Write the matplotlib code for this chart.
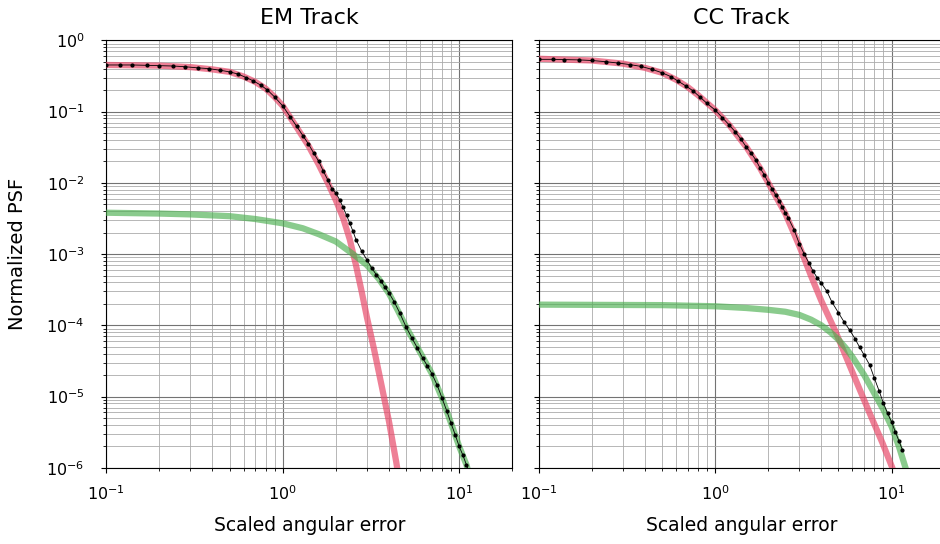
import numpy as np
import matplotlib.pyplot as plt
from matplotlib.ticker import NullFormatter

# EM Track: red (core) and green (tail) components, and binned data
em_red_x = [0.1, 0.2, 0.3, 0.4, 0.5, 0.6, 0.7, 0.8, 0.9, 1.0, 1.2, 1.4, 1.6, 1.8,
            2.0, 2.2, 2.4, 2.6, 2.8, 3.0, 3.3, 3.6, 4.0, 4.4, 4.6]
em_red_y = [0.45, 0.44, 0.42, 0.39, 0.36, 0.31, 0.26, 0.21, 0.16, 0.12, 0.060,
            0.033, 0.018, 0.010, 0.0057, 0.0032, 0.0016, 7e-4, 3.0e-4, 1.3e-4,
            4.5e-5, 1.6e-5, 4.5e-6, 1.2e-6, 6e-7]
em_green_x = [0.1, 0.2, 0.3, 0.5, 0.7, 1.0, 1.3, 1.6, 2.0, 2.5, 3.0, 3.5, 4.0,
              4.5, 5.0, 6.0, 7.0, 8.0, 9.0, 10.0, 11.0, 12.0]
em_green_y = [0.0038, 0.0037, 0.0036, 0.0034, 0.0031, 0.0027, 0.0023, 0.0019,
              0.0015, 0.0010, 7e-4, 4.5e-4, 2.8e-4, 1.6e-4, 9.5e-5, 4.2e-5,
              2.1e-5, 9.5e-6, 4.2e-6, 2.0e-6, 1.1e-6, 5e-7]

# CC Track
cc_red_x = [0.1, 0.2, 0.3, 0.4, 0.5, 0.6, 0.7, 0.8, 1.0, 1.2, 1.5, 1.8, 2.0,
            2.5, 3.0, 3.5, 4.0, 4.8, 6.0, 7.5, 8.9, 10.1, 10.6]
cc_red_y = [0.55, 0.52, 0.47, 0.41, 0.35, 0.28, 0.22, 0.17, 0.105, 0.065, 0.032,
            0.016, 0.010, 0.0037, 0.0013, 4.9e-4, 2.2e-4, 8.3e-5, 2.2e-5, 5.9e-6,
            2.2e-6, 1e-6, 7e-7]
cc_green_x = [0.1, 0.5, 1.0, 1.5, 2.0, 2.5, 3.0, 3.5, 4.0, 4.5, 5.0, 5.5, 6.0,
              7.0, 8.0, 9.0, 10.0, 11.0, 12.0, 12.5]
cc_green_y = [1.95e-4, 1.92e-4, 1.85e-4, 1.75e-4, 1.65e-4, 1.55e-4, 1.4e-4,
              1.2e-4, 1.0e-4, 8e-5, 6.3e-5, 4.8e-5, 3.6e-5, 2.0e-5, 1.1e-5,
              6.5e-6, 3.8e-6, 2.0e-6, 1.0e-6, 7e-7]

# binned data (same bin centres for both tracks)
data_x = [0.10, 0.12, 0.14, 0.17, 0.20, 0.24, 0.28, 0.33, 0.38, 0.44, 0.50,
          0.56, 0.62, 0.68, 0.75, 0.82, 0.90, 1.0, 1.1, 1.2, 1.3, 1.4, 1.5,
          1.6, 1.7, 1.8, 1.9, 2.0, 2.1, 2.2, 2.3, 2.4, 2.5, 2.6, 2.8, 3.0,
          3.2, 3.4, 3.6, 3.8, 4.0, 4.3, 4.6, 5.0, 5.4, 5.8, 6.2, 6.6, 7.0,
          7.5, 8.0, 8.5, 9.0, 9.5, 10.0, 10.5, 11.0, 11.5]
em_data_y = [0.45, 0.45, 0.45, 0.445, 0.44, 0.435, 0.425, 0.41, 0.40, 0.38,
             0.36, 0.335, 0.30, 0.27, 0.235, 0.20, 0.16, 0.12, 0.085, 0.062,
             0.046, 0.035, 0.026, 0.020, 0.0145, 0.0110, 0.0082, 0.0072,
             0.0058, 0.0045, 0.0035, 0.0027, 0.0021, 0.0016, 0.0011, 8.3e-4,
             6.3e-4, 5.1e-4, 4.2e-4, 3.4e-4, 2.85e-4, 2.1e-4, 1.5e-4, 9.5e-5,
             6.6e-5, 4.8e-5, 3.5e-5, 2.7e-5, 2.1e-5, 1.45e-5, 9.5e-6, 6.3e-6,
             4.2e-6, 2.9e-6, 2.0e-6, 1.5e-6, 1.1e-6, 8e-7]
cc_data_y = [0.54, 0.54, 0.535, 0.53, 0.52, 0.50, 0.48, 0.455, 0.43, 0.39,
             0.35, 0.31, 0.265, 0.23, 0.195, 0.16, 0.13, 0.105, 0.082, 0.065,
             0.052, 0.041, 0.032, 0.026, 0.021, 0.016, 0.013, 0.010, 0.0083,
             0.0068, 0.0056, 0.0046, 0.0038, 0.0032, 0.0022, 0.0014, 0.0010,
             7.5e-4, 5.7e-4, 4.6e-4, 3.9e-4, 3.0e-4, 2.1e-4, 1.5e-4, 1.1e-4,
             8.5e-5, 6.5e-5, 4.9e-5, 3.8e-5, 2.8e-5, 1.8e-5, 1.2e-5, 8e-6,
             5.8e-6, 4.4e-6, 3.2e-6, 2.4e-6, 1.8e-6]

x_ticks = [0.1, 1, 10]
y_ticks = [1e-6, 1e-5, 1e-4, 1e-3, 1e-2, 1e-1, 1]

panels = [
    ('EM Track', em_red_x, em_red_y, em_green_x, em_green_y, em_data_y),
    ('CC Track', cc_red_x, cc_red_y, cc_green_x, cc_green_y, cc_data_y),
]

fig = plt.figure(figsize=(9.4, 5.44), dpi=100)
ax1 = fig.add_axes([0.113, 0.14, 0.432, 0.786])
ax2 = fig.add_axes([0.573, 0.14, 0.432, 0.786], sharey=ax1)

for ax, (title, rx, ry, gx, gy, dy) in zip([ax1, ax2], panels):
    ax.set_xscale('log')
    ax.set_yscale('log')
    ax.plot(rx, ry, color='#e84a6a', lw=4.5, alpha=0.7, zorder=3)
    ax.plot(gx, gy, color='#4caf50', lw=4.5, alpha=0.65, zorder=3)
    ax.plot(data_x, dy, '.-', color='black', ms=4, lw=0.6, zorder=4)
    ax.set_xticks(x_ticks)
    ax.set_yticks(y_ticks)
    ax.set_xlim(0.1, 20)
    ax.set_ylim(1e-6, 1)
    ax.xaxis.set_minor_formatter(NullFormatter())
    ax.yaxis.set_minor_formatter(NullFormatter())
    ax.grid(True, which='major', color='0.45', lw=0.8)
    ax.grid(True, which='minor', color='0.67', lw=0.6)
    ax.set_axisbelow(True)
    ax.set_title(title, fontsize=16, pad=12)
    ax.set_xlabel('Scaled angular error', fontsize=13.5, va='top')
    ax.xaxis.set_label_coords(0.5, -0.112)
    ax.tick_params(axis='x', which='major', labelsize=11.5, pad=8)
    ax.tick_params(axis='y', which='major', labelsize=11.5, pad=12)

ax1.set_ylabel('Normalized PSF', fontsize=14)
ax1.yaxis.set_label_coords(-0.195, 0.5)
ax2.tick_params(axis='y', labelleft=False)

fig.savefig('out.png', dpi=100)
